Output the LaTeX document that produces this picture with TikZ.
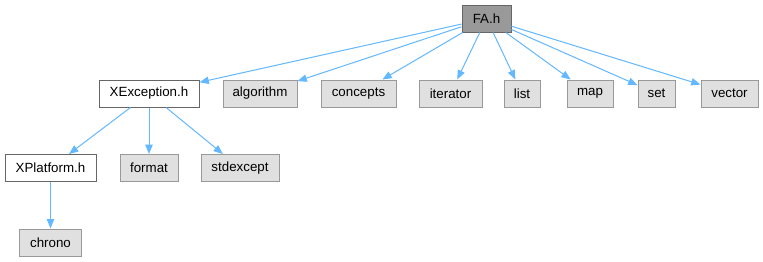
\documentclass[tikz,border=0pt]{standalone}
\usepackage{fontspec}
\setmainfont{Liberation Sans}
\usetikzlibrary{arrows.meta}

\definecolor{rootfill}{HTML}{999999}
\definecolor{rootline}{HTML}{666666}
\definecolor{extfill}{HTML}{E0E0E0}
\definecolor{extline}{HTML}{999999}
\definecolor{edgeblue}{HTML}{63B8FF}

\tikzset{
  hbox/.style={rectangle, inner sep=0pt, minimum height=20.25pt, line width=0.75pt,
               font=\fontsize{10}{12}\selectfont, text=black},
  rootbox/.style={hbox, draw=rootline, fill=rootfill},
  localbox/.style={hbox, draw=rootline, fill=white},
  extbox/.style={hbox, draw=extline, fill=extfill},
  incl/.style={draw=edgeblue, line width=0.75pt,
               -{Triangle[length=7pt,width=5.5pt,fill=edgeblue]}}
}

\begin{document}
\begin{tikzpicture}[x=0.75pt, y=-0.75pt]
  \useasboundingbox[fill=white] (0,0) rectangle (763,261);

  % top: the header itself
  \node[rootbox, minimum width=36.75pt] (fa) at (486.5,18.5) {FA.h};

  % direct includes
  \node[localbox, minimum width=75pt]   (xexc)   at (149,93.5)   {XException.h};
  \node[extbox,   minimum width=55.5pt] (algo)   at (260,93.5)   {algorithm};
  \node[extbox,   minimum width=56.25pt](conc)   at (358.5,93.5) {concepts};
  \node[extbox,   minimum width=47.25pt](iter)   at (450.5,93.5) {iterator};
  \node[extbox,   minimum width=27pt]   (list)   at (522,93.5)   {list};
  \node[extbox,   minimum width=34.5pt] (map)    at (590,93.5)   {map};
  \node[extbox,   minimum width=27.75pt](set)    at (656.5,93.5) {set};
  \node[extbox,   minimum width=42.75pt](vec)    at (729.5,93.5) {vector};

  % includes of XException.h
  \node[localbox, minimum width=68.25pt](xplat)  at (50.5,168)   {XPlatform.h};
  \node[extbox,   minimum width=43.5pt] (fmt)    at (149,168)    {format};
  \node[extbox,   minimum width=58.5pt] (stdex)  at (240,168)    {stdexcept};

  % includes of XPlatform.h
  \node[extbox,   minimum width=46.5pt] (chrono) at (50.5,242.5) {chrono};

  % include edges
  \foreach \t in {xexc,algo,conc,iter,list,map,set,vec}
    \draw[incl] (fa) -- (\t);
  \foreach \t in {xplat,fmt,stdex}
    \draw[incl] (xexc) -- (\t);
  \draw[incl] (xplat) -- (chrono);
\end{tikzpicture}
\end{document}
